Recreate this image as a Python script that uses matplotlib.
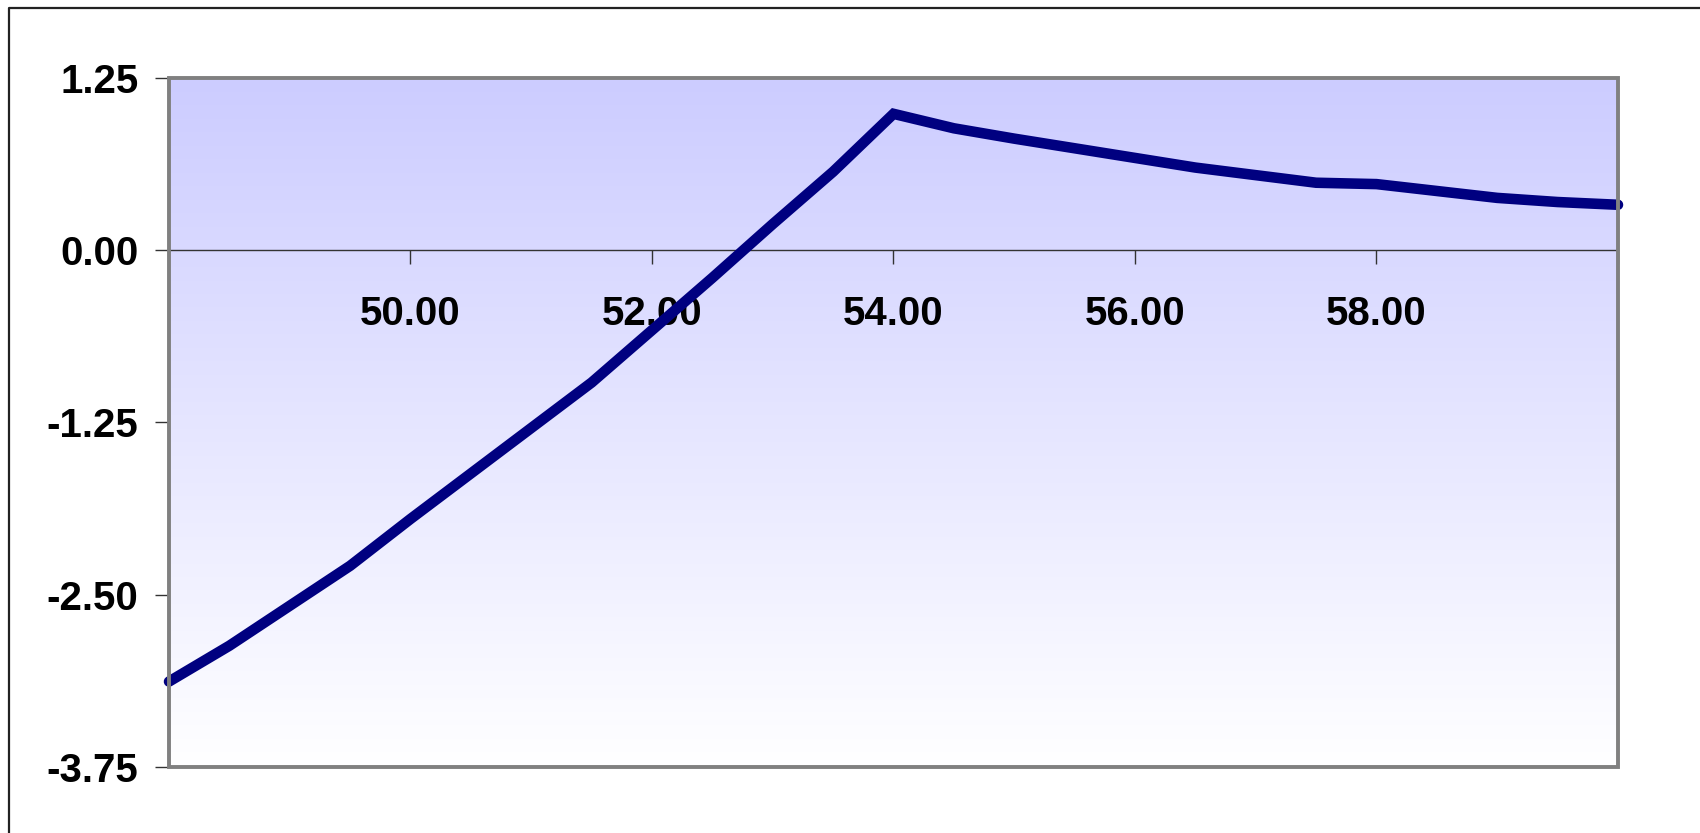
import numpy as np
import matplotlib
matplotlib.use("Agg")
import matplotlib.pyplot as plt
from matplotlib.patches import Rectangle
from matplotlib.lines import Line2D
from matplotlib.ticker import FixedLocator, FixedFormatter
from matplotlib.colors import LinearSegmentedColormap

# Payoff curve: underlying price vs. profit/loss
price = [48.0, 48.5, 49.0, 49.5, 50.0, 50.5, 51.0, 51.5, 52.0, 52.5,
         53.0, 53.5, 54.0, 54.5, 55.0, 55.5, 56.0, 56.5, 57.0, 57.5,
         58.0, 58.5, 59.0, 59.5, 60.0]
pnl = [-3.13, -2.87, -2.58, -2.29, -1.95, -1.62, -1.29, -0.96, -0.58, -0.20,
       0.19, 0.57, 0.99, 0.885, 0.81, 0.74, 0.67, 0.60, 0.545, 0.49,
       0.48, 0.43, 0.38, 0.35, 0.33]

x_ticks = [50, 52, 54, 56, 58, 60]
x_tick_labels = ["50.00", "52.00", "54.00", "56.00", "58.00", ""]
y_ticks = [1.25, 0.0, -1.25, -2.50, -3.75]
y_tick_labels = ["1.25", "0.00", "-1.25", "-2.50", "-3.75"]

plt.rcParams["font.family"] = ["Liberation Sans", "DejaVu Sans"]

W, H = 1700, 833
fig = plt.figure(figsize=(W / 100, H / 100), dpi=100)
fig.patch.set_facecolor("white")

ax = fig.add_axes([169 / W, 1 - 767 / H, (1618 - 169) / W, (767 - 78) / H])
ax.set_xlim(48, 60)
ax.set_ylim(-3.75, 1.25)

# vertical gradient fill: lavender at top fading to white
cmap = LinearSegmentedColormap.from_list("bg", ["#FFFFFF", "#CCCCFF"])
grad = np.linspace(0, 1, 256).reshape(-1, 1)
ax.imshow(grad, extent=[48, 60, -3.75, 1.25], origin="lower", cmap=cmap,
          aspect="auto", zorder=0, interpolation="bicubic")

ax.plot(price, pnl, color="#000080", lw=7.6, solid_capstyle="round",
        solid_joinstyle="miter", zorder=3, clip_on=False)

# x axis crosses at zero
for side in ["top", "right", "left"]:
    ax.spines[side].set_visible(False)
ax.spines["bottom"].set_position(("data", 0))
ax.spines["bottom"].set_color("#333333")
ax.spines["bottom"].set_linewidth(1.0)
ax.spines["bottom"].set_zorder(2)

# plot-area border
ax.add_patch(Rectangle((0, 0), 1, 1, transform=ax.transAxes, fill=False,
                       edgecolor="#808080", lw=2.8, zorder=4, clip_on=False))

ax.xaxis.set_major_locator(FixedLocator(x_ticks))
ax.xaxis.set_major_formatter(FixedFormatter(x_tick_labels))
ax.yaxis.set_major_locator(FixedLocator(y_ticks))
ax.yaxis.set_major_formatter(FixedFormatter(y_tick_labels))

ax.tick_params(axis="x", direction="out", length=10, width=1.0,
               color="#333333", pad=22, labelsize=29)
ax.tick_params(axis="y", direction="out", length=10, width=1.0,
               color="#333333", pad=12, labelsize=29)
for lab in ax.get_xticklabels() + ax.get_yticklabels():
    lab.set_fontweight("bold")

# chart frame
fig.add_artist(Line2D([9 / W, 9 / W, 1.01], [-0.01, 1 - 8 / H, 1 - 8 / H],
                      transform=fig.transFigure, color="#222222", lw=1.6))

fig.savefig("out.png", dpi=100)
